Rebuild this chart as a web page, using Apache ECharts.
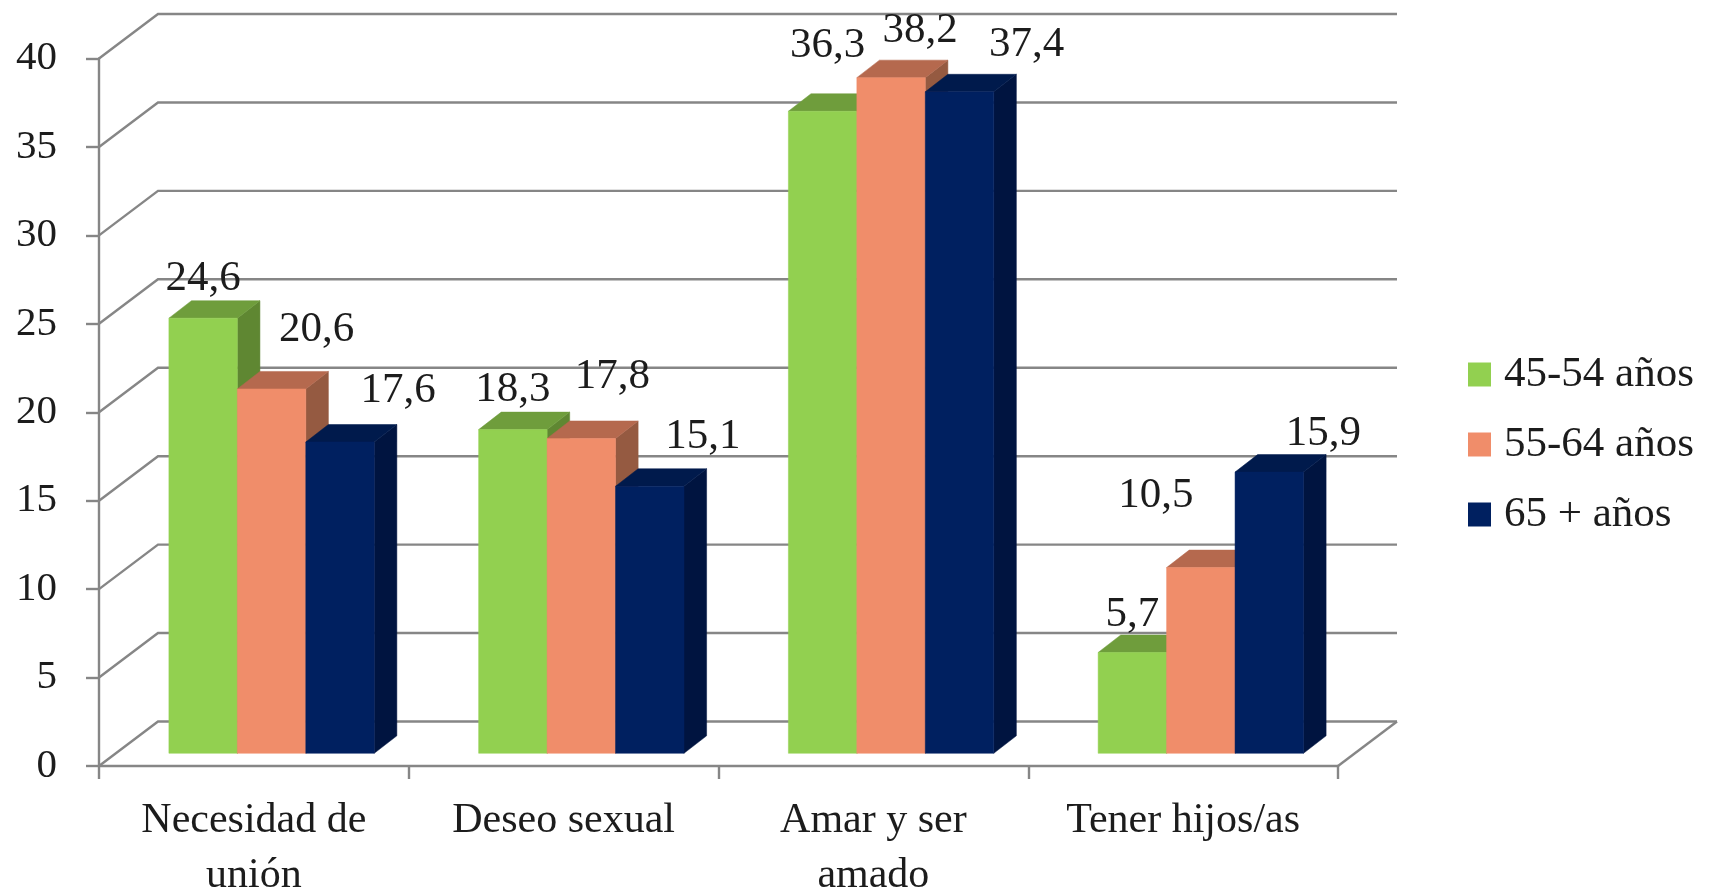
<!DOCTYPE html>
<html>
<head>
<meta charset="utf-8">
<title>Motivos por grupo de edad</title>
<script src="https://cdn.jsdelivr.net/npm/echarts@6/dist/echarts.min.js"></script>
<style>html,body{margin:0;padding:0;background:#fff}#chart{width:1710px;height:892px}</style>
</head>
<body>
<div id="chart"></div>
<script>
// Chart values
const categories = ['Necesidad de\nunión', 'Deseo sexual', 'Amar y ser\namado', 'Tener hijos/as'];
const seriesNames = ['45-54 años', '55-64 años', '65 + años'];
const values4554 = [24.6, 18.3, 36.3, 5.7];
const values5564 = [20.6, 17.8, 38.2, 10.5];
const values65 = [17.6, 15.1, 37.4, 15.9];
const yTicks = [0, 5, 10, 15, 20, 25, 30, 35, 40];

// Hand placement of the value labels, relative to each bar's top edge
const labelNudge = [
  [[0, -39], [0, -40], [5, -66], [0, -38]],
  [[45, -59], [31, -62], [29, -47], [-45, -72]],
  [[58, -51], [53, -50], [67, -47], [54, -38]]
];

// Face colours of each bar: front, top, side
const faces = [
  ['#92D050', '#6F9D3C', '#5F8732'],
  ['#F08D6A', '#B5694E', '#955A41'],
  ['#002060', '#001A4C', '#001440']
];

const FONT = '"Liberation Serif", serif';
const TEXT = '#1c1c1c';
const LINE = '#868686';
const LINE_WIDTH = 2.4;

// Projection of the chart box: depth of the walls and of the bars
const WALL_DX = 59, WALL_DY = -44.5;
const PLANE_DX = 17.7, PLANE_DY = -12.7;
const BAR_DX = 22.6, BAR_DY = -17.5;
const BAR_SHARE = 0.221;

function poly(points, fill) {
  return { type: 'polygon', shape: { points }, style: { fill, stroke: fill, lineWidth: 0.5 } };
}

// Back-wall gridlines and their diagonals along the side wall
function renderWall(params, api) {
  const cs = params.coordSys;
  const y = api.coord([0, api.value(0)])[1];
  const x0 = cs.x, x1 = cs.x + cs.width;
  const children = [{
    type: 'polyline',
    shape: { points: [[x0, y], [x0 + WALL_DX, y + WALL_DY], [x1 + WALL_DX, y + WALL_DY]] },
    style: { fill: null, stroke: LINE, lineWidth: LINE_WIDTH }
  }];
  if (api.value(0) === 0) {
    children.push({
      type: 'line',
      shape: { x1, y1: y, x2: x1 + WALL_DX, y2: y + WALL_DY },
      style: { stroke: LINE, lineWidth: LINE_WIDTH }
    });
  }
  return { type: 'group', children };
}

function renderBar(seriesIndex) {
  return function (params, api) {
    const k = params.dataIndex;
    const v = api.value(1);
    const top = api.coord([k, v]);
    const base = api.coord([k, 0]);
    const w = api.size([1, 0])[0] * BAR_SHARE;
    const left = top[0] + PLANE_DX - 1.5 * w + seriesIndex * w;
    const right = left + w;
    const yTop = top[1] + PLANE_DY;
    const yBase = base[1] + PLANE_DY;
    const [front, topFace, side] = faces[seriesIndex];
    const nudge = labelNudge[seriesIndex][k];
    return {
      type: 'group',
      children: [
        poly([[right, yBase], [right + BAR_DX, yBase + BAR_DY], [right + BAR_DX, yTop + BAR_DY], [right, yTop]], side),
        poly([[left, yTop], [left + BAR_DX, yTop + BAR_DY], [right + BAR_DX, yTop + BAR_DY], [right, yTop]], topFace),
        poly([[left, yBase], [left, yTop], [right, yTop], [right, yBase]], front),
        {
          type: 'text',
          style: {
            text: String(v).replace('.', ','),
            x: left + w / 2 + nudge[0],
            y: yTop + nudge[1],
            align: 'center',
            verticalAlign: 'middle',
            font: '43px ' + FONT,
            fill: TEXT
          }
        }
      ]
    };
  };
}

function barSeries(name, values, index) {
  return {
    name,
    type: 'custom',
    clip: false,
    z: 3 + index,
    itemStyle: { color: faces[index][0] },
    encode: { x: 0, y: 1 },
    renderItem: renderBar(index),
    data: values.map((v, k) => [k, v])
  };
}

const chart = echarts.init(document.getElementById('chart'), null, { renderer: 'canvas' });
chart.setOption({
  backgroundColor: '#fff',
  animation: false,
  grid: { left: 99, right: 372, top: 58.5, height: 707.5, containLabel: false, outerBoundsMode: 'none' },
  legend: {
    data: seriesNames,
    orient: 'vertical',
    left: 1468,
    top: 353,
    padding: 0,
    itemWidth: 23,
    itemHeight: 24,
    itemGap: 27,
    icon: 'rect',
    selectedMode: false,
    textStyle: { fontFamily: FONT, fontSize: 43, color: TEXT, padding: [0, 0, 0, 8] }
  },
  xAxis: {
    type: 'category',
    data: categories,
    boundaryGap: true,
    axisLine: { lineStyle: { color: LINE, width: LINE_WIDTH } },
    axisTick: { show: true, length: 13, lineStyle: { color: LINE, width: LINE_WIDTH } },
    axisLabel: { interval: 0, margin: 27, fontFamily: FONT, fontSize: 42, color: TEXT, lineHeight: 55 }
  },
  yAxis: {
    type: 'value',
    min: 0,
    max: 40,
    interval: 5,
    splitLine: { show: false },
    axisLine: { show: true, lineStyle: { color: LINE, width: LINE_WIDTH } },
    axisTick: { show: true, length: 13, lineStyle: { color: LINE, width: LINE_WIDTH } },
    axisLabel: { margin: 42, fontFamily: FONT, fontSize: 41, color: TEXT }
  },
  series: [
    {
      type: 'custom',
      name: 'paredes',
      clip: false,
      z: 1,
      encode: { y: 0 },
      renderItem: renderWall,
      data: yTicks.map(v => [v]),
      silent: true
    },
    barSeries(seriesNames[0], values4554, 0),
    barSeries(seriesNames[1], values5564, 1),
    barSeries(seriesNames[2], values65, 2)
  ]
});
</script>
</body>
</html>
